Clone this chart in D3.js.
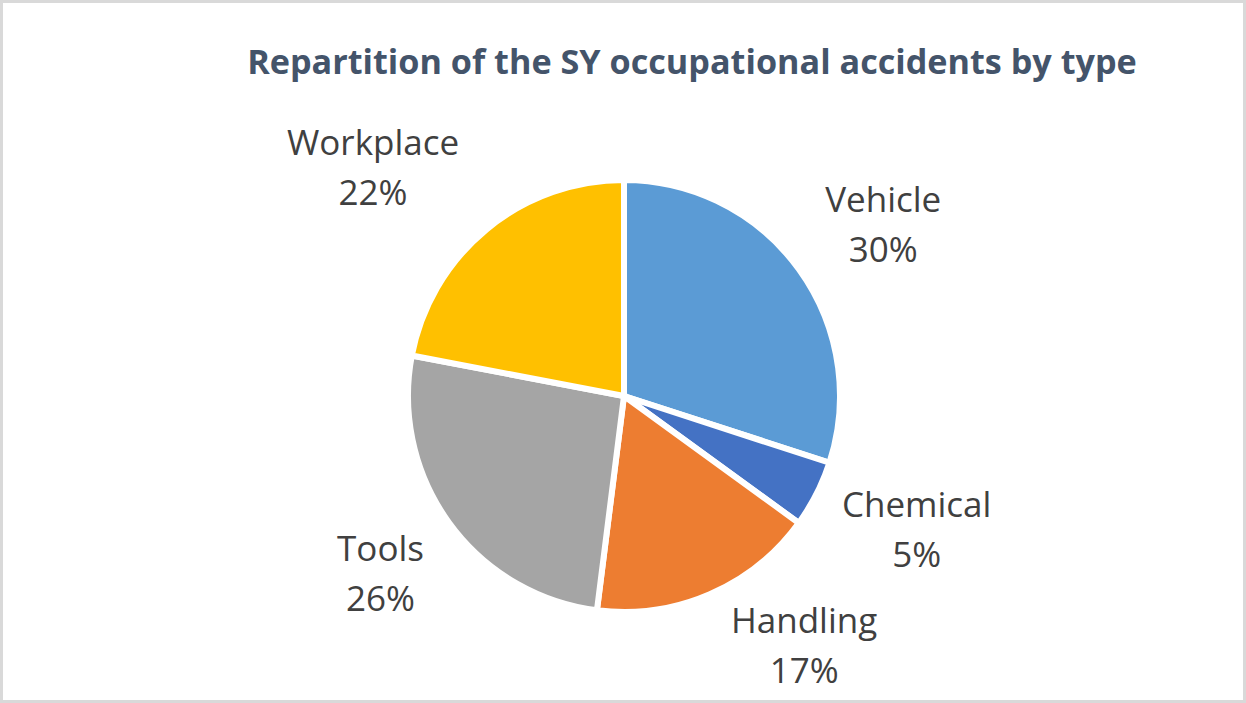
<!DOCTYPE html>
<html>
<head>
<meta charset="utf-8">
<script src="https://cdn.jsdelivr.net/npm/d3@7"></script>
<style>
  html, body { margin: 0; padding: 0; background: #fff; }
  svg { display: block; }
</style>
</head>
<body>
<svg id="chart" width="1246" height="703"></svg>
<script>
// ---- Data ----
const categories = ["Vehicle", "Chemical", "Handling", "Tools", "Workplace"];
const shares = [30, 5, 17, 26, 22];
const sliceColors = ["#5B9BD5", "#4472C4", "#ED7D31", "#A5A5A5", "#FFC000"];
const titleText = "Repartition of the SY occupational accidents by type";

// ---- Layout (label placement in polar coords around pie centre: [angle deg, distance]) ----
const labelPolar = [[58.5, 304], [116.5, 327], [145.5, 318], [232, 309], [310.7, 331]];

const W = 1246, H = 703;
const cx = 624, cy = 396, R = 216;
const svg = d3.select("#chart");

svg.append("rect")
  .attr("x", 1.5).attr("y", 1.5)
  .attr("width", W - 3).attr("height", H - 3)
  .attr("fill", "#fff").attr("stroke", "#D9D9D9").attr("stroke-width", 3);

// Title
const title = svg.append("text")
  .attr("x", 692).attr("y", 74)
  .attr("text-anchor", "middle")
  .attr("font-family", "'Open Sans', sans-serif")
  .attr("font-weight", "bold")
  .attr("font-size", 32)
  .attr("fill", "#44546A")
  .text(titleText);
// fit width to reference
let tl = title.node().getComputedTextLength();
title.attr("font-size", 32 * 890 / tl);

const data = categories.map((c, i) => ({ name: c, value: shares[i], color: sliceColors[i] }));
const pie = d3.pie().value(d => d.value).sort(null).startAngle(0).endAngle(2 * Math.PI);
const arc = d3.arc().innerRadius(0).outerRadius(R);

const g = svg.append("g").attr("transform", `translate(${cx},${cy})`);
g.selectAll("path.slice")
  .data(pie(data))
  .join("path")
  .attr("class", "slice")
  .attr("d", arc)
  .attr("fill", d => d.data.color)
  .attr("stroke", "#fff")
  .attr("stroke-width", 6)
  .attr("stroke-linejoin", "miter");

const total = d3.sum(shares);
const fmt = v => Math.round(v / total * 100) + "%";

const labels = g.selectAll("text.lbl")
  .data(pie(data))
  .join("text")
  .attr("class", "lbl")
  .attr("text-anchor", "middle")
  .attr("font-family", "'Open Sans', sans-serif")
  .attr("font-size", 35)
  .attr("fill", "#404040")
  .attr("transform", (d, i) => {
    const a = labelPolar[i][0] * Math.PI / 180, r = labelPolar[i][1];
    return `translate(${r * Math.sin(a)},${-r * Math.cos(a)})`;
  });
labels.append("tspan").attr("x", 0).attr("y", -25).text(d => d.data.name);
labels.append("tspan").attr("x", 0).attr("y", 25).text(d => fmt(d.data.value));
</script>
</body>
</html>
